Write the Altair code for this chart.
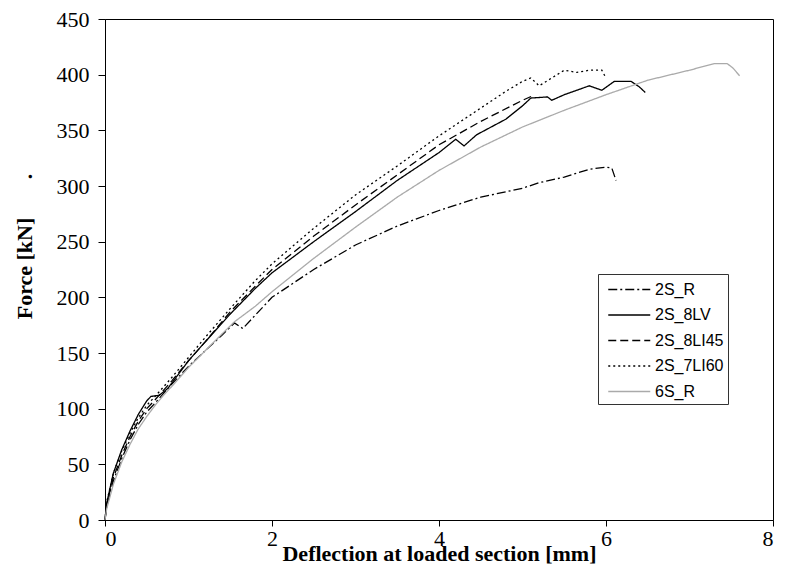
import altair as alt
import pandas as pd

series_names = ["2S_R", "2S_8LV", "2S_8LI45", "2S_7LI60", "6S_R"]

x_2S_R = [0, 0.02, 0.1, 0.2, 0.3, 0.4, 0.5, 0.6, 0.8, 1.0, 1.2, 1.4, 1.55, 1.65, 1.8, 2.0, 2.5, 3.0, 3.5, 4.0, 4.5, 5.0, 5.2, 5.5, 5.8, 6.0, 6.07, 6.12]
y_2S_R = [0, 12, 35, 55, 72, 86, 97, 105, 122, 138, 152, 166, 177, 172, 184, 200, 225, 247, 264, 278, 290, 298, 303, 308, 315, 317, 316, 305]

x_2S_8LV = [0, 0.02, 0.1, 0.2, 0.3, 0.4, 0.5, 0.55, 0.65, 0.75, 0.9, 1.0, 1.2, 1.5, 1.8, 2.0, 2.5, 3.0, 3.5, 4.0, 4.2, 4.3, 4.45, 4.8, 5.0, 5.1, 5.3, 5.35, 5.5, 5.8, 5.95, 6.1, 6.3, 6.4, 6.47]
y_2S_8LV = [0, 15, 42, 63, 80, 95, 107, 111, 112, 118, 133, 143, 160, 185, 208, 222, 250, 277, 305, 330, 342, 336, 346, 360, 372, 379, 380, 377, 382, 390, 386, 394, 394, 389, 384]

x_2S_8LI45 = [0, 0.02, 0.1, 0.2, 0.3, 0.4, 0.5, 0.6, 0.8, 1.0, 1.2, 1.5, 1.8, 2.0, 2.5, 3.0, 3.5, 4.0, 4.5, 5.0, 5.12]
y_2S_8LI45 = [0, 14, 38, 58, 75, 89, 100, 108, 125, 143, 160, 187, 210, 225, 255, 283, 310, 337, 358, 377, 381]

x_2S_7LI60 = [0, 0.02, 0.1, 0.2, 0.3, 0.4, 0.5, 0.6, 0.8, 1.0, 1.2, 1.5, 1.8, 2.0, 2.5, 3.0, 3.5, 4.0, 4.5, 4.8, 5.0, 5.1, 5.2, 5.35, 5.5, 5.65, 5.8, 5.95, 6.0]
y_2S_7LI60 = [0, 16, 42, 62, 78, 92, 103, 111, 128, 146, 164, 190, 215, 230, 262, 292, 318, 345, 370, 385, 394, 397, 390, 397, 404, 402, 404, 404, 397]

x_6S_R = [0, 0.02, 0.1, 0.2, 0.3, 0.4, 0.5, 0.6, 0.7, 0.8, 1.0, 1.2, 1.4, 1.55, 1.8, 2.0, 2.5, 3.0, 3.5, 4.0, 4.5, 5.0, 5.5, 6.0, 6.5, 7.0, 7.3, 7.45, 7.52, 7.6]
y_6S_R = [0, 10, 32, 52, 68, 82, 93, 103, 112, 120, 137, 152, 167, 178, 192, 205, 235, 263, 290, 314, 335, 353, 368, 382, 395, 404, 410, 410, 406, 399]

x_ticks = [0, 2, 4, 6, 8]
y_ticks = [0, 50, 100, 150, 200, 250, 300, 350, 400, 450]

xs = [x_2S_R, x_2S_8LV, x_2S_8LI45, x_2S_7LI60, x_6S_R]
ys = [y_2S_R, y_2S_8LV, y_2S_8LI45, y_2S_7LI60, y_6S_R]

rows = []
for name, xv, yv in zip(series_names, xs, ys):
    for i, (a, b) in enumerate(zip(xv, yv)):
        rows.append({"series": name, "x": a, "y": b, "i": i})
df = pd.DataFrame(rows)

colors = ["black", "black", "black", "black", "#aaaaaa"]
dashes = [[9, 3, 2, 3], [1, 0], [8, 4], [2, 3], [1, 0]]
widths = [1.3, 1.3, 1.3, 1.3, 2.5]

serif = "Liberation Serif"

chart = alt.Chart(df).mark_line().encode(
    x=alt.X("x:Q", scale=alt.Scale(domain=[0, 8], nice=False, zero=False),
            axis=alt.Axis(values=x_ticks, title="Deflection at loaded section [mm]",
                          grid=False, tickSize=6, labelPadding=2, titlePadding=-6,
                          titleFontSize=22)),
    y=alt.Y("y:Q", scale=alt.Scale(domain=[0, 450], nice=False),
            axis=alt.Axis(values=y_ticks, grid=False, tickSize=7, labelPadding=9,
                          title="Force [kN]" + "\u00a0" * 7 + ".",
                          titleY=227, titlePadding=20, titleFontSize=22)),
    color=alt.Color("series:N", scale=alt.Scale(domain=series_names, range=colors),
                    legend=alt.Legend(title=None)),
    strokeDash=alt.StrokeDash("series:N", scale=alt.Scale(domain=series_names, range=dashes),
                              legend=alt.Legend(title=None)),
    strokeWidth=alt.StrokeWidth("series:N", scale=alt.Scale(domain=series_names, range=widths),
                                legend=alt.Legend(title=None)),
    order="i:Q",
).properties(
    width=668, height=501,
    autosize=alt.AutoSizeParams(type="none"),
    padding={"left": 97, "top": 11, "right": 9, "bottom": 47},
).configure_view(
    stroke="black", strokeWidth=1
).configure_axis(
    domainColor="black", tickColor="black", labelColor="black", titleColor="black",
    labelFont=serif, labelFontSize=22, titleFont=serif,
    titleFontWeight="bold", domainWidth=1
).configure_legend(
    orient="none", legendX=493, legendY=255,
    strokeColor="#333333", fillColor="white", padding=4,
    symbolType="M-0.5,0H3.5", symbolSize=441, symbolStrokeWidth=1.5,
    labelFont="Liberation Sans", labelFontSize=16, labelColor="black",
    rowPadding=5.5, labelOffset=30, cornerRadius=0
)

chart.save("out.html", embed_options={"renderer": "svg", "actions": False})
